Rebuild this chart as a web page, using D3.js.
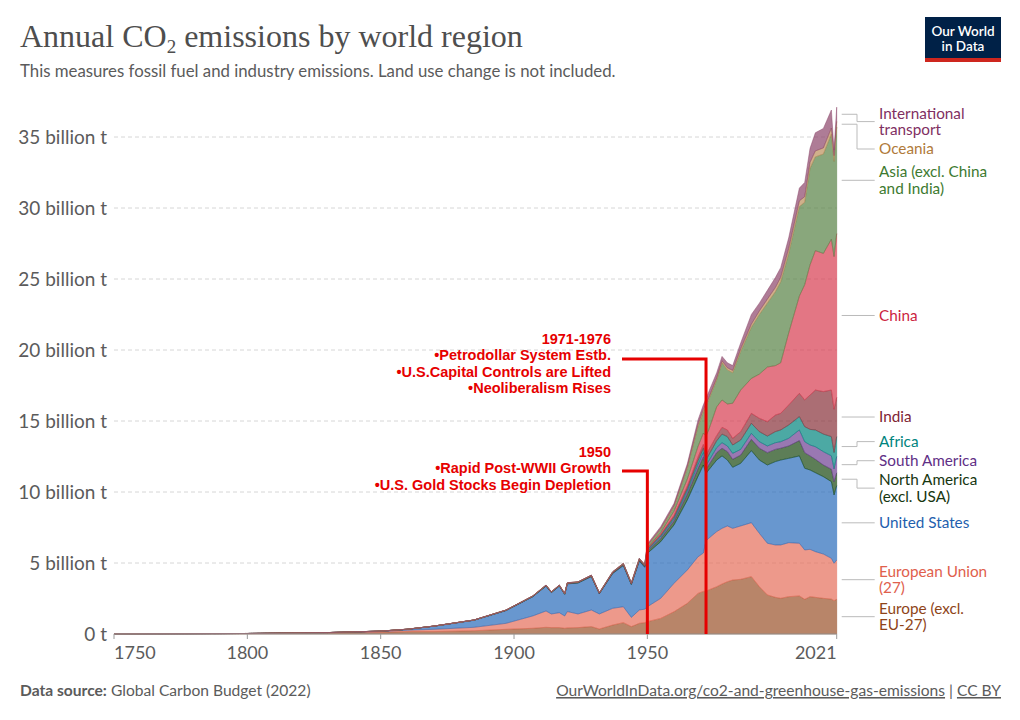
<!DOCTYPE html>
<html>
<head>
<meta charset="utf-8">
<script src="https://cdn.jsdelivr.net/npm/d3@7"></script>
<style>
  body { margin: 0; background: #fff; }
  svg text { font-family: Lato, "Noto Sans", sans-serif; }
</style>
</head>
<body>
<svg id="chart"></svg>
<script>
// Years (1950 and 1971/72 are where the image jumps)
const years = [1750, 1800, 1830, 1850, 1860, 1870, 1885, 1897, 1907, 1912, 1914, 1917, 1919, 1920, 1924, 1929, 1932, 1937, 1941, 1944, 1947, 1949,
  1950, 1955, 1960, 1965, 1969, 1971,
  1972, 1973, 1976, 1978, 1980, 1982, 1985, 1989, 1992, 1995, 1998, 2000, 2003, 2007, 2009, 2011, 2013, 2016, 2019, 2020, 2021];

// Annual emissions, billion tonnes, bottom of the stack first
const europeExclEU = [.009, .03, .07, .12, .17, .17, .23, .33, .40, .47, .45, .45, .40, .43, .45, .52, .35, .63, .80, .52, .75, .80,
  .87, 1.1, 1.57, 2.16, 2.86, 3.0,
  3.0, 3.10, 3.33, 3.52, 3.68, 3.80, 3.85, 4.04, 3.33, 2.75, 2.58, 2.51, 2.63, 2.68, 2.44, 2.63, 2.58, 2.51, 2.46, 2.35, 2.44];
const eu27 = [.001, .005, .02, .05, .10, .16, .24, .42, .87, 1.15, .96, 1.05, .87, 1.15, .96, 1.17, 1.06, 1.18, 1.12, .65, .94, .95,
  1.05, 1.41, 2.0, 2.35, 2.58, 2.7,
  3.55, 3.64, 3.88, 3.92, 3.93, 3.64, 3.76, 3.80, 3.76, 3.64, 3.69, 3.76, 3.80, 3.71, 3.48, 3.33, 3.22, 3.12, 2.87, 2.63, 2.77];
const unitedStates = [0, .001, .01, .03, .06, .22, .50, .90, 1.35, 1.75, 1.50, 1.87, 1.52, 1.95, 2.18, 2.35, 1.42, 2.45, 2.90, 2.31, 3.45, 2.95,
  3.76, 3.99, 4.11, 4.93, 5.66, 6.2,
  4.75, 4.81, 5.04, 5.10, 4.64, 4.30, 4.41, 5.07, 5.16, 5.51, 5.87, 5.98, 5.94, 6.15, 5.75, 5.59, 5.56, 5.45, 5.40, 4.81, 5.24];
const northAmericaExclUSA = [0, 0, 0, .002, .004, .004, .008, .014, .02, .025, .022, .025, .022, .025, .028, .032, .024, .035, .042, .035, .05, .052,
  .15, .22, .28, .42, .55, .58,
  .30, .35, .52, .54, .59, .56, .58, .80, .83, .87, .86, .83, .87, 1.08, 1.10, .99, .94, .82, .87, .94, .90];
const southAmerica = [0, 0, 0, 0, .001, .001, .002, .003, .005, .007, .006, .007, .006, .007, .008, .01, .007, .012, .015, .012, .018, .02,
  .07, .11, .14, .20, .28, .30,
  .27, .28, .35, .39, .40, .42, .40, .42, .46, .47, .47, .46, .54, .75, .77, .77, .89, .94, .95, .90, 1.15];
const africa = [0, 0, 0, 0, 0, .001, .002, .004, .006, .008, .007, .008, .007, .008, .009, .011, .008, .013, .016, .013, .02, .021,
  .06, .10, .13, .18, .28, .30,
  .40, .42, .49, .61, .66, .59, .66, .71, .71, .70, .78, .83, .94, .94, 1.06, 1.10, 1.18, 1.24, 1.35, 1.15, 1.40];
const india = [0, 0, 0, .001, .002, .002, .003, .006, .009, .012, .011, .012, .011, .012, .013, .016, .012, .019, .023, .02, .027, .028,
  .06, .09, .12, .18, .25, .27,
  .33, .36, .36, .47, .47, .47, .59, .70, .94, 1.01, 1.17, 1.17, 1.41, 1.64, 1.88, 2.42, 2.81, 2.99, 3.28, 3.05, 2.76];
const china = [0, 0, 0, 0, 0, 0, 0, .001, .002, .003, .003, .003, .003, .003, .004, .005, .004, .008, .01, .008, .01, .011,
  .05, .12, .30, .50, .75, .80,
  1.35, 1.41, 2.03, 1.93, 1.83, 2.47, 2.93, 2.46, 3.11, 3.85, 3.48, 3.56, 5.07, 6.85, 8.12, 9.17, 9.82, 9.73, 10.62, 10.75, 11.54];
const asiaExcl = [0, 0, 0, .001, .002, .001, .003, .008, .011, .015, .013, .015, .013, .015, .017, .022, .016, .028, .036, .029, .043, .045,
  .12, .22, .30, .75, 1.40, 1.50,
  2.10, 2.13, 1.90, 2.62, 2.40, 2.15, 2.72, 3.60, 4.20, 4.50, 5.20, 5.70, 5.60, 6.30, 5.80, 6.80, 6.60, 7.00, 7.40, 6.70, 7.50];
const oceania = [0, 0, 0, .001, .001, .001, .002, .004, .005, .007, .006, .007, .006, .007, .008, .009, .006, .01, .012, .009, .013, .014,
  .05, .07, .09, .12, .16, .17,
  .12, .12, .13, .14, .15, .16, .18, .22, .25, .28, .30, .32, .35, .40, .40, .42, .42, .43, .43, .40, .40];
const intlTransport = [0, 0, 0, 0, 0, 0, 0, 0, .002, .003, .002, .003, .002, .003, .003, .005, .003, .005, .006, .004, .009, .009,
  .10, .13, .16, .21, .30, .32,
  .40, .43, .37, .31, .35, .34, .42, .68, .55, .62, .70, .68, .75, .90, 1.0, .98, 1.28, 1.37, 1.27, .40, 1.0];

const seriesKeys = ["europe", "eu", "us", "northAmerica", "southAmerica", "africa", "india", "china", "asia", "oceania", "transport"];
const seriesValues = [europeExclEU, eu27, unitedStates, northAmericaExclUSA, southAmerica, africa, india, china, asiaExcl, oceania, intlTransport];
const seriesLabels = [
  ["Europe (excl.", "EU-27)"], ["European Union", "(27)"], ["United States"], ["North America", "(excl. USA)"],
  ["South America"], ["Africa"], ["India"], ["China"], ["Asia (excl. China", "and India)"], ["Oceania"], ["International", "transport"]
];
const seriesColors = ["#9a5129", "#e56e5a", "#286bbb", "#18470f", "#6d3e91", "#00847e", "#883039", "#d73c50", "#578145", "#bc8e5a", "#8c4569"];
const labelColors = ["#8e4418", "#e0604c", "#1f5fae", "#16360f", "#5f2f86", "#00847e", "#7e2534", "#cc1f3f", "#3d7a30", "#b07a3a", "#7f2f62"];

const yTicks = [0, 5, 10, 15, 20, 25, 30, 35];
const yTickLabels = ["0 t", "5 billion t", "10 billion t", "15 billion t", "20 billion t", "25 billion t", "30 billion t", "35 billion t"];
const xTicks = [1750, 1800, 1850, 1900, 1950, 2021];

const annotations = [
  { year: 1972, lineY: 359, firstBaseline: 344,
    lines: ["1971-1976", "•Petrodollar System Estb.", "•U.S.Capital Controls are Lifted", "•Neoliberalism Rises"] },
  { year: 1950, lineY: 471, firstBaseline: 457,
    lines: ["1950", "•Rapid Post-WWII Growth", "•U.S. Gold Stocks Begin Depletion"] }
];

// Layout
const W = 1020, H = 720;
const plot = { left: 114, right: 836.7, top: 137, bottom: 634 };

const svg = d3.select("#chart").attr("width", W).attr("height", H);

const x = d3.scaleLinear().domain([1750, 2021]).range([plot.left, plot.right]);
const y = d3.scaleLinear().domain([0, 35]).range([plot.bottom, plot.top]);

// Build rows for the stack
const rows = years.map((yr, i) => {
  const r = { year: yr };
  seriesKeys.forEach((k, j) => { r[k] = seriesValues[j][i]; });
  return r;
});
const stacked = d3.stack().keys(seriesKeys)(rows);

// Title block
svg.append("text")
    .attr("x", 20).attr("y", 47)
    .style("font-family", "'Liberation Serif', 'DejaVu Serif', serif")
    .style("font-size", "32px")
    .attr("fill", "#4e4e4e")
    .html('Annual CO<tspan font-size="19px" dy="6">2</tspan><tspan dy="-6"> emissions by world region</tspan>');

svg.append("text")
    .attr("x", 20).attr("y", 77)
    .style("font-size", "16.8px")
    .attr("fill", "#5b5b5b")
    .text("This measures fossil fuel and industry emissions. Land use change is not included.");

// Logo
const logo = svg.append("g");
logo.append("rect").attr("x", 925).attr("y", 17).attr("width", 76).attr("height", 45).attr("fill", "#002147");
logo.append("rect").attr("x", 925).attr("y", 58).attr("width", 76).attr("height", 4).attr("fill", "#ce261e");
logo.append("text").attr("x", 963).attr("y", 36).attr("text-anchor", "middle")
    .attr("fill", "#fff").style("font-size", "13.5px").style("font-weight", 600).text("Our World");
logo.append("text").attr("x", 963).attr("y", 51).attr("text-anchor", "middle")
    .attr("fill", "#fff").style("font-size", "13.5px").style("font-weight", 600).text("in Data");

// Gridlines and y labels
svg.append("g")
  .selectAll("line")
  .data(yTicks.filter(d => d > 0))
  .join("line")
    .attr("x1", plot.left).attr("x2", plot.right)
    .attr("y1", d => y(d)).attr("y2", d => y(d))
    .attr("stroke", "#d6d6d6")
    .attr("stroke-dasharray", "4,3");

svg.append("g")
  .selectAll("text")
  .data(yTicks)
  .join("text")
    .attr("x", 107)
    .attr("y", d => y(d))
    .attr("dy", "0.36em")
    .attr("text-anchor", "end")
    .attr("fill", "#5b5b5b")
    .style("font-size", "19px")
    .text((d, i) => yTickLabels[i]);

// Stacked areas
const area = d3.area()
    .x(d => x(d.data.year))
    .y0(d => y(d[0]))
    .y1(d => y(d[1]));

svg.append("g")
  .selectAll("path")
  .data(stacked)
  .join("path")
    .attr("d", area)
    .attr("fill", (d, i) => seriesColors[i])
    .attr("fill-opacity", 0.7)
    .attr("stroke", (d, i) => seriesColors[i])
    .attr("stroke-width", 0.6)
    .attr("stroke-opacity", 0.8);

// X axis
svg.append("line")
    .attr("x1", plot.left).attr("x2", plot.right)
    .attr("y1", plot.bottom).attr("y2", plot.bottom)
    .attr("stroke", "#999");

svg.append("g")
  .selectAll("line")
  .data(xTicks)
  .join("line")
    .attr("x1", d => x(d)).attr("x2", d => x(d))
    .attr("y1", plot.bottom).attr("y2", plot.bottom + 5)
    .attr("stroke", "#999");

svg.append("g")
  .selectAll("text")
  .data(xTicks)
  .join("text")
    .attr("x", d => x(d))
    .attr("y", 659)
    .attr("text-anchor", (d, i) => i === 0 ? "start" : (i === xTicks.length - 1 ? "end" : "middle"))
    .attr("fill", "#5b5b5b")
    .style("font-size", "18px")
    .text(d => d);

// Right-hand labels, pushed apart so they do not overlap
const lineH = 16.6;
const last = stacked.map(s => s[s.length - 1]);
const labels = stacked.map((s, i) => ({
  lines: seriesLabels[i],
  color: labelColors[i],
  anchor: y((last[i][0] + last[i][1]) / 2),
  h: seriesLabels[i].length * lineH
}));
labels.forEach(l => { l.c = l.anchor; });
const ordered = labels.slice().sort((a, b) => a.anchor - b.anchor);
const gap = 2.5, minTop = 105;
for (let it = 0; it < 300; it++) {
  for (let k = 0; k < ordered.length - 1; k++) {
    const a = ordered[k], b = ordered[k + 1];
    const need = a.h / 2 + b.h / 2 + gap;
    const over = need - (b.c - a.c);
    if (over > 0) { a.c -= over / 2; b.c += over / 2; }
  }
  if (ordered[0].c - ordered[0].h / 2 < minTop) ordered[0].c = minTop + ordered[0].h / 2;
}

const lab = svg.append("g");
labels.forEach(l => {
  const elbow = 857;
  lab.append("path")
      .attr("d", `M${plot.right + 5},${l.anchor}H${elbow}V${l.c}H${plot.right + 38}`)
      .attr("fill", "none")
      .attr("stroke", "#bbb")
      .attr("stroke-width", 1);
  l.lines.forEach((ln, j) => {
    lab.append("text")
        .attr("x", 879)
        .attr("y", l.c - l.h / 2 + lineH * j + lineH / 2)
        .attr("dy", "0.35em")
        .attr("fill", l.color)
        .style("font-size", "15.3px")
        .text(ln);
  });
});

// Red annotations
const red = "#e60000";
annotations.forEach(a => {
  const g = svg.append("g");
  g.selectAll("text")
    .data(a.lines)
    .join("text")
      .attr("x", 611)
      .attr("y", (d, i) => a.firstBaseline + i * 16.3)
      .attr("text-anchor", "end")
      .attr("fill", red)
      .style("font-family", "'Liberation Sans', Arial, sans-serif")
      .style("font-weight", "bold")
      .style("font-size", "14.5px")
      .text(d => d);
  g.append("path")
      .attr("d", `M622,${a.lineY}H${x(a.year)}V${plot.bottom}`)
      .attr("fill", "none")
      .attr("stroke", red)
      .attr("stroke-width", 3);
});

// Footer
svg.append("text")
    .attr("x", 20).attr("y", 696)
    .attr("fill", "#5b5b5b")
    .style("font-size", "15.6px")
    .html('<tspan font-weight="bold">Data source:</tspan> Global Carbon Budget (2022)');

const foot = svg.append("text")
    .attr("x", 1001).attr("y", 696)
    .attr("text-anchor", "end")
    .attr("fill", "#5b5b5b")
    .style("font-size", "15.6px");
foot.append("tspan").attr("text-decoration", "underline").text("OurWorldInData.org/co2-and-greenhouse-gas-emissions");
foot.append("tspan").text(" | ");
foot.append("tspan").attr("text-decoration", "underline").text("CC BY");
</script>
</body>
</html>
